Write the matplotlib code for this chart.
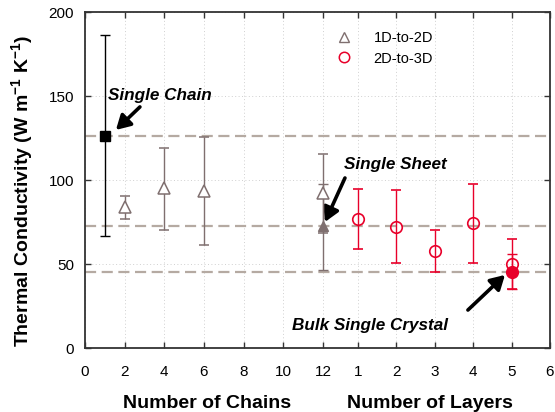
import matplotlib
matplotlib.use("Agg")
import matplotlib.pyplot as plt
from matplotlib.lines import Line2D

# ---------------- data ----------------
chain_ticks = [0, 2, 4, 6, 8, 10, 12]
layer_ticks = [1, 2, 3, 4, 5, 6]

single_chain_n = 1
single_chain_k = 126.2
single_chain_lo = 66.7
single_chain_hi = 186.3

chains = [2, 4, 6, 12]
chain_k = [84.1, 95.0, 93.6, 92.0]
chain_lo = [76.6, 70.2, 61.1, 68.2]
chain_hi = [90.5, 119.2, 125.4, 115.3]

single_sheet_n = 12
single_sheet_k = 72.6
single_sheet_lo = 46.4
single_sheet_hi = 97.4

layers = [1, 2, 3, 4, 5]
layer_k = [76.8, 72.2, 57.7, 74.2, 50.0]
layer_lo = [58.9, 50.4, 45.0, 50.6, 35.1]
layer_hi = [94.6, 94.0, 70.0, 97.4, 64.9]

bulk_n = 5
bulk_k = 45.5
bulk_lo = 35.1
bulk_hi = 55.7

# layer axis mapping onto the shared x axis
LAYER_OFFSET = 13.75
LAYER_STEP = 1.94


def lx(v):
    if isinstance(v, (list, tuple)):
        return [LAYER_OFFSET + (i - 1) * LAYER_STEP for i in v]
    return LAYER_OFFSET + (v - 1) * LAYER_STEP


GRAY = "#7f6f6f"
RED = "#e8002a"
DASH = "#b5aaa2"
SPINE = "#333333"

plt.rcParams["font.family"] = ["Liberation Sans", "DejaVu Sans"]
plt.rcParams["mathtext.fontset"] = "custom"
plt.rcParams["mathtext.rm"] = "Liberation Sans:bold"
plt.rcParams["mathtext.bf"] = "Liberation Sans:bold"

fig = plt.figure(figsize=(5.55, 4.12), dpi=100)
ax = fig.add_axes([85 / 555, (412 - 348) / 412, 465 / 555, 336 / 412])

xmax = lx(6)
ax.set_xlim(0, xmax)
ax.set_ylim(0, 200)

xt = list(chain_ticks) + lx(layer_ticks)
xl = [str(v) for v in chain_ticks] + [str(v) for v in layer_ticks]
ax.set_xticks(xt)
ax.set_xticklabels(xl)
ax.set_yticks([0, 50, 100, 150, 200])

ax.grid(True, linestyle=(0, (1, 2.5)), color="#d0d0d0", linewidth=0.7, zorder=0)
ax.set_axisbelow(True)

for s in ax.spines.values():
    s.set_color(SPINE)
    s.set_linewidth(1.3)
ax.tick_params(direction="in", top=True, right=True, length=4, width=1.0,
               color=SPINE, labelsize=11)
ax.tick_params(axis="x", pad=12)
ax.tick_params(axis="y", pad=8)

# reference dashed lines
for yv in [single_chain_k, single_sheet_k, bulk_k]:
    ax.axhline(yv, color=DASH, lw=1.6, dashes=(5, 2.5), zorder=1)

cap = 3.6
# single chain
ax.errorbar([single_chain_n], [single_chain_k],
            yerr=[[single_chain_k - single_chain_lo], [single_chain_hi - single_chain_k]],
            fmt="s", color="black", ms=7, ecolor="black", elinewidth=1.0,
            capsize=cap, capthick=1.0, zorder=4)

# chains (1D-to-2D)
ax.errorbar(chains, chain_k,
            yerr=[[k - lo for k, lo in zip(chain_k, chain_lo)],
                  [hi - k for k, hi in zip(chain_k, chain_hi)]],
            fmt="^", mfc="white", mec=GRAY, mew=1.1, ms=8, ecolor=GRAY,
            elinewidth=1.0, capsize=cap, capthick=1.0, zorder=4)

# single sheet
ax.errorbar([single_sheet_n], [single_sheet_k],
            yerr=[[single_sheet_k - single_sheet_lo], [single_sheet_hi - single_sheet_k]],
            fmt="^", color=GRAY, ms=7.5, ecolor=GRAY, elinewidth=1.0,
            capsize=cap, capthick=1.0, zorder=4)

# layers (2D-to-3D)
ax.errorbar(lx(layers), layer_k,
            yerr=[[k - lo for k, lo in zip(layer_k, layer_lo)],
                  [hi - k for k, hi in zip(layer_k, layer_hi)]],
            fmt="o", mfc="none", mec=RED, mew=1.2, ms=8.3, ecolor=RED,
            elinewidth=1.0, capsize=cap, capthick=1.0, zorder=4)

# bulk
ax.errorbar([lx(bulk_n)], [bulk_k],
            yerr=[[bulk_k - bulk_lo], [bulk_hi - bulk_k]],
            fmt="o", color=RED, ms=8.5, ecolor=RED, elinewidth=1.0,
            capsize=cap, capthick=1.0, zorder=5)

# annotations
afont = dict(fontsize=12.3, fontweight="bold", style="italic", color="black")
aprops = dict(arrowstyle="-|>,head_length=0.7,head_width=0.4", lw=2.6,
              color="black", shrinkA=0, shrinkB=0, mutation_scale=12)

ax.text(1.16, 147.6, "Single Chain", va="baseline", ha="left", **afont)
ax.annotate("", xy=(1.56, 129.8), xytext=(2.77, 143.5), arrowprops=aprops)

ax.text(13.08, 106.5, "Single Sheet", va="baseline", ha="left", **afont)
ax.annotate("", xy=(12.10, 75.0), xytext=(13.11, 101.2), arrowprops=aprops)

ax.text(10.42, 10.7, "Bulk Single Crystal", va="baseline", ha="left", **afont)
ax.annotate("", xy=(21.18, 43.5), xytext=(19.31, 22.6), arrowprops=aprops)

# legend
handles = [
    Line2D([], [], ls="none", marker="^", mfc="white", mec=GRAY, mew=1.0, ms=7),
    Line2D([], [], ls="none", marker="o", mfc="none", mec=RED, mew=1.1, ms=7.5),
]
ax.legend(handles, ["1D-to-2D", "2D-to-3D"], loc="upper left",
          bbox_to_anchor=((337 - 85) / 465, (348 - 31) / 336),
          frameon=False, fontsize=10.5, handlelength=1.0, handletextpad=1.5,
          borderpad=0, borderaxespad=0, labelspacing=0.45)

# axis labels
fig.text(207 / 555, 1 - 404 / 412, "Number of Chains", ha="center", va="center",
         fontsize=14, fontweight="bold")
fig.text(430 / 555, 1 - 404 / 412, "Number of Layers", ha="center", va="center",
         fontsize=14, fontweight="bold")
fig.text(23 / 555, 1 - 191 / 412,
         "Thermal Conductivity (W m$^{\\mathbf{-1}}$ K$^{\\mathbf{-1}}$)",
         ha="center", va="center", rotation=90, fontsize=14, fontweight="bold")

fig.savefig("out.png", dpi=100)
